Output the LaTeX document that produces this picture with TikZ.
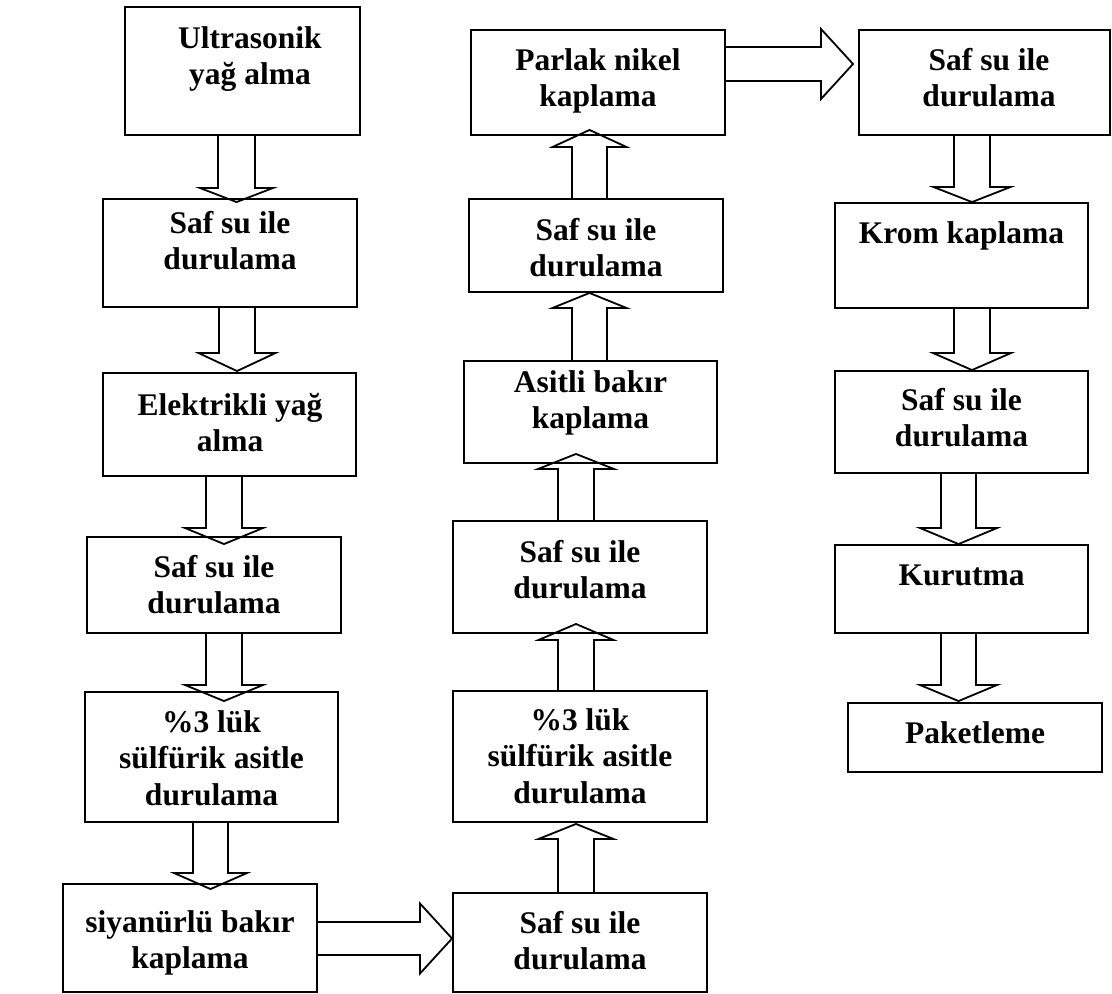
\documentclass[tikz,border=0pt]{standalone}
\usepackage{fontspec}
\setmainfont{Liberation Serif}
\usetikzlibrary{calc}
\tikzset{
  x=1pt, y=-1pt,
  box/.style={draw, line width=1.9pt, inner sep=0pt},
  lbl/.style={anchor=north, inner sep=0pt, align=center,
    font=\bfseries\fontsize{31.5}{36.5}\selectfont},
  barrow/.style={draw, line width=1.8pt, line join=miter},
}
\newcommand\bx[5]{\node[box, minimum width={(#4-#2)*1pt}, minimum height={(#5-#3)*1pt}] (#1) at ({(#2+#4)/2},{(#3+#5)/2}) {};}
\newcommand\lb[4]{\node[lbl] (#1) at (#2,#3-25.55) {#4};}
% down block arrow: from, to, centre x, shaft half width, head half width, head base y, tip offset
\newcommand\darr[7]{%
  \pgfmathsetmacro\xa{#3-#4}\pgfmathsetmacro\xb{#3+#4}%
  \pgfmathsetmacro\xc{#3-#5}\pgfmathsetmacro\xd{#3+#5}%
  \draw[barrow] (#1.south -| \xa,0) -- (\xa,#6) -- (\xc,#6) -- ($(#2.north -| #3,0)+(0,#7)$) -- (\xd,#6) -- (\xb,#6) -- (#1.south -| \xb,0);}
% up block arrow
\newcommand\uarr[7]{%
  \pgfmathsetmacro\xa{#3-#4}\pgfmathsetmacro\xb{#3+#4}%
  \pgfmathsetmacro\xc{#3-#5}\pgfmathsetmacro\xd{#3+#5}%
  \draw[barrow] (#1.north -| \xa,0) -- (\xa,#6) -- (\xc,#6) -- ($(#2.south -| #3,0)+(0,#7)$) -- (\xd,#6) -- (\xb,#6) -- (#1.north -| \xb,0);}
% right block arrow: from, to, centre y, shaft half width, head half width, head base x, tip offset
\newcommand\rarr[7]{%
  \pgfmathsetmacro\ya{#3-#4}\pgfmathsetmacro\yb{#3+#4}%
  \pgfmathsetmacro\yc{#3-#5}\pgfmathsetmacro\yd{#3+#5}%
  \draw[barrow] (#1.east |- 0,\ya) -- (#6,\ya) -- (#6,\yc) -- ($(#2.west |- 0,#3)+(#7,0)$) -- (#6,\yd) -- (#6,\yb) -- (#1.east |- 0,\yb);}
\begin{document}
\begin{tikzpicture}
\useasboundingbox (0,0) rectangle (1112,994);
% boxes
\bx{b1}{125}{7}{360}{135}
\bx{b2}{103}{199}{357}{307}
\bx{b3}{103}{373}{356}{476}
\bx{b4}{87}{537}{341}{633}
\bx{b5}{85}{692}{338}{822}
\bx{b6}{63}{884}{317}{992}
\bx{c1}{453}{893}{707}{992}
\bx{c2}{453}{691}{707}{822}
\bx{c3}{453}{521}{707}{633}
\bx{c4}{464}{361}{717}{463}
\bx{c5}{469}{199}{723}{292}
\bx{c6}{471}{30}{725}{135}
\bx{d1}{859}{30}{1110}{135}
\bx{d2}{835}{203}{1088}{308}
\bx{d3}{835}{371}{1088}{473}
\bx{d4}{835}{545}{1088}{633}
\bx{d5}{848}{703}{1102}{772}
% labels
\lb{t1}{250}{48}{\strut Ultrasonik\\\strut yağ alma}
\lb{t2}{230}{233}{\strut Saf su ile\\\strut durulama}
\lb{t3}{230}{415}{\strut Elektrikli yağ\\\strut alma}
\lb{t4}{214}{577}{\strut Saf su ile\\\strut durulama}
\lb{t5}{211.5}{732}{\strut \%3 lük\\\strut sülfürik asitle\\\strut durulama}
\lb{t6}{190}{932}{\strut siyanürlü bakır\\\strut kaplama}
\lb{u1}{580}{933}{\strut Saf su ile\\\strut durulama}
\lb{u2}{580}{730}{\strut \%3 lük\\\strut sülfürik asitle\\\strut durulama}
\lb{u3}{580}{562}{\strut Saf su ile\\\strut durulama}
\lb{u4}{590.5}{392}{\strut Asitli bakır\\\strut kaplama}
\lb{u5}{596}{240}{\strut Saf su ile\\\strut durulama}
\lb{u6}{598}{70}{\strut Parlak nikel\\\strut kaplama}
\lb{v1}{989}{70}{\strut Saf su ile\\\strut durulama}
\lb{v2}{961.5}{243}{\strut Krom kaplama}
\lb{v3}{961.5}{410}{\strut Saf su ile\\\strut durulama}
\lb{v4}{961.5}{585}{\strut Kurutma}
\lb{v5}{975}{743}{\strut Paketleme}
% arrows
\darr{b1}{b2}{236.5}{18.5}{36.5}{188}{4}
\darr{b2}{b3}{237}{18}{38.5}{353}{-1}
\darr{b3}{b4}{224}{18}{39}{528}{8}
\darr{b4}{b5}{224}{18}{39}{685}{10}
\darr{b5}{b6}{210.5}{17.5}{36.5}{873}{6}
\rarr{b6}{c1}{938.5}{16.5}{35}{420}{0}
\uarr{c1}{c2}{576}{18}{37.5}{839}{1}
\uarr{c2}{c3}{576}{18}{37.5}{640}{-10}
\uarr{c3}{c4}{576}{18}{38}{469}{-10}
\uarr{c4}{c5}{589.5}{17.5}{37}{308}{0}
\uarr{c5}{c6}{589.5}{17.5}{37}{147}{-6}
\rarr{c6}{d1}{64}{17}{35}{821}{-5}
\darr{d1}{d2}{972}{18}{38.5}{187}{0}
\darr{d2}{d3}{972}{18}{39}{353}{0}
\darr{d3}{d4}{958.5}{17.5}{38.5}{528}{0}
\darr{d4}{d5}{958.5}{17.5}{38.5}{685}{-1}
\end{tikzpicture}
\end{document}
